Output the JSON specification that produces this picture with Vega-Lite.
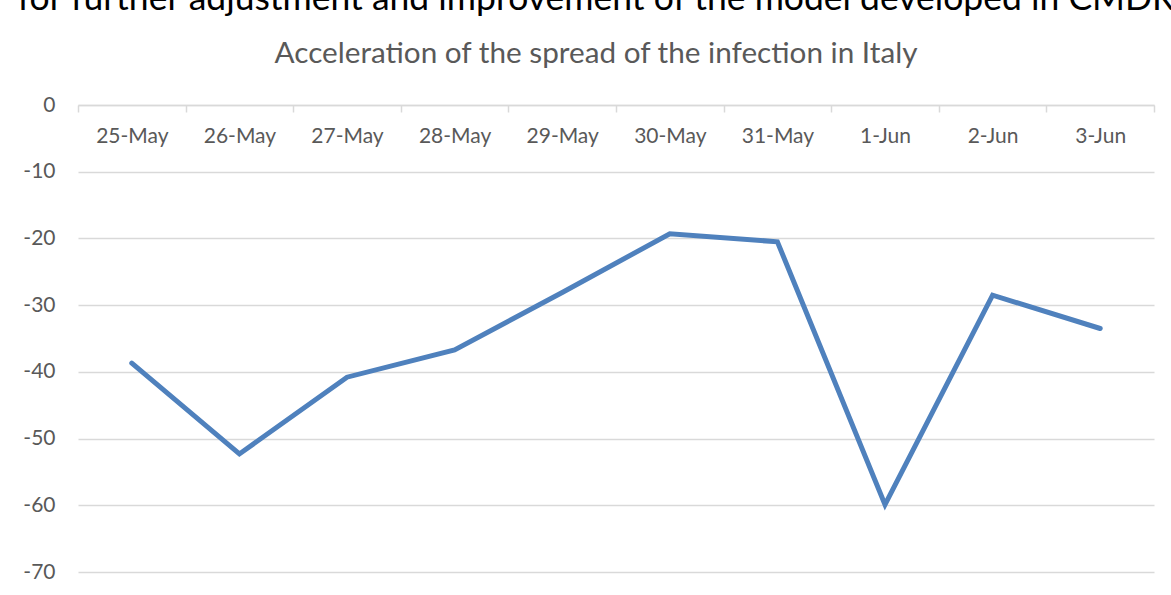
{
  "$schema": "https://vega.github.io/schema/vega-lite/v6.json",
  "width": 1076,
  "height": 467,
  "autosize": {"type": "none"},
  "padding": {"left": 78, "top": 105, "right": 17, "bottom": 23},
  "background": "white",
  "title": {
    "text": "for further adjustment and improvement of the model developed in CMDR",
    "subtitle": "Acceleration of the spread of the infection in Italy",
    "anchor": "middle",
    "frame": "group",
    "dx": -20,
    "font": "Lato",
    "fontSize": 35.5,
    "fontWeight": "normal",
    "color": "#000000",
    "subtitleFont": "Lato",
    "subtitleFontSize": 29.7,
    "subtitleColor": "#595959",
    "subtitlePadding": 23,
    "offset": 25
  },
  "data": {
    "values": [
      {"date": "25-May", "value": -38.7},
      {"date": "26-May", "value": -52.3},
      {"date": "27-May", "value": -40.8},
      {"date": "28-May", "value": -36.7},
      {"date": "29-May", "value": -28.1},
      {"date": "30-May", "value": -19.3},
      {"date": "31-May", "value": -20.5},
      {"date": "1-Jun", "value": -59.9},
      {"date": "2-Jun", "value": -28.5},
      {"date": "3-Jun", "value": -33.5}
    ]
  },
  "mark": {"type": "line", "color": "#4f81bd", "strokeWidth": 5, "strokeCap": "round"},
  "encoding": {
    "x": {
      "field": "date",
      "type": "ordinal",
      "sort": null,
      "scale": {"type": "band", "paddingInner": 0, "paddingOuter": 0},
      "axis": {
        "title": null,
        "orient": "bottom",
        "offset": -467,
        "grid": false,
        "domainColor": "#d9d9d9",
        "domainWidth": 1.5,
        "tickColor": "#d9d9d9",
        "tickWidth": 1.5,
        "tickSize": 7,
        "tickBand": "extent",
        "labelAngle": 0,
        "labelFont": "Lato",
        "labelFontSize": 21,
        "labelColor": "#595959",
        "labelPadding": 13
      }
    },
    "y": {
      "field": "value",
      "type": "quantitative",
      "scale": {"domain": [-70, 0], "nice": false, "zero": false},
      "axis": {
        "title": null,
        "values": [0, -10, -20, -30, -40, -50, -60, -70],
        "labelExpr": "datum.value == 0 ? '0' : '-' + abs(datum.value)",
        "domain": false,
        "ticks": false,
        "grid": true,
        "gridColor": "#d9d9d9",
        "gridWidth": 1.5,
        "labelFont": "Lato",
        "labelFontSize": 21,
        "labelColor": "#595959",
        "labelPadding": 23
      }
    }
  },
  "config": {"view": {"stroke": null}}
}
